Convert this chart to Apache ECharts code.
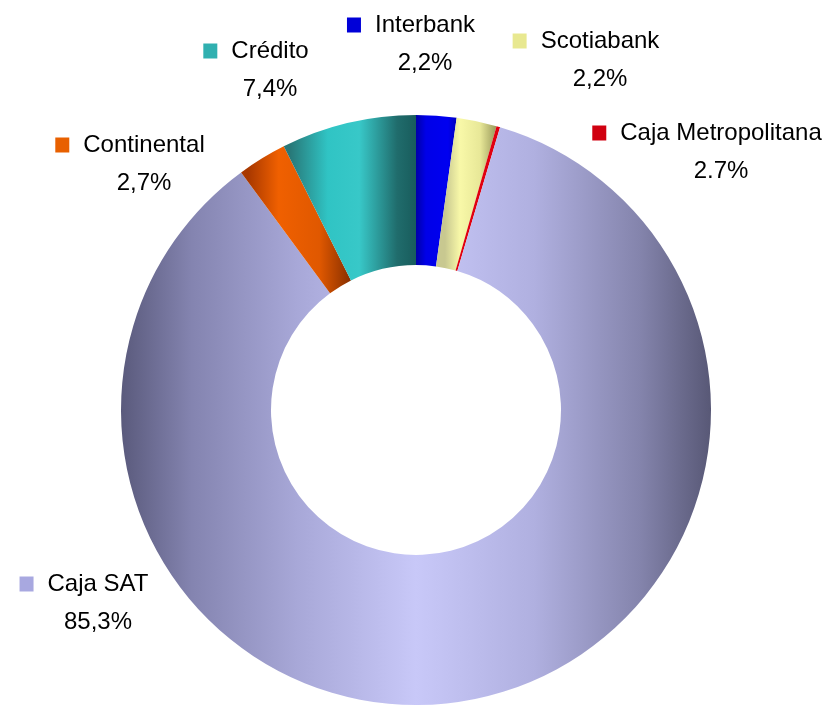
<!DOCTYPE html>
<html>
<head>
<meta charset="utf-8">
<script src="https://cdn.jsdelivr.net/npm/echarts@6/dist/echarts.min.js"></script>
<style>
  html, body { margin: 0; padding: 0; background: #fff; }
  #main { width: 833px; height: 714px; }
</style>
</head>
<body>
<div id="main"></div>
<script>
// datos del gráfico
var bancos = ['Interbank', 'Scotiabank', 'Caja Metropolitana', 'Caja SAT', 'Continental', 'Crédito'];
var valores = [2.2, 2.2, 0.2, 85.3, 2.7, 7.4];
var etiquetas = ['2,2%', '2,2%', '2.7%', '85,3%', '2,7%', '7,4%'];
var marcadores = ['#0000d8', '#e8e890', '#d00010', '#a8a8e0', '#e86000', '#30b0b0'];

var G = echarts.graphic.LinearGradient;
// degradados para efecto 3D (coordenadas globales)
var relleno = [
    new G(416, 0, 456, 0, [
        { offset: 0, color: '#0000a8' }, { offset: 0.25, color: '#0000e8' },
        { offset: 0.8, color: '#0000f0' }, { offset: 1, color: '#0000c0' }], true),
    new G(445, 0, 495, 0, [
        { offset: 0, color: '#c8c890' }, { offset: 0.3, color: '#f8f8a8' },
        { offset: 0.7, color: '#e8e898' }, { offset: 1, color: '#a0a060' }], true),
    '#e00010',
    new G(121, 0, 711, 0, [
        { offset: 0, color: '#5a5a7c' }, { offset: 0.12, color: '#8484b0' },
        { offset: 0.3, color: '#a8a8d8' }, { offset: 0.5, color: '#c8c8f8' },
        { offset: 0.7, color: '#b0b0e0' }, { offset: 0.88, color: '#8484ac' },
        { offset: 1, color: '#585876' }], true),
    new G(248, 0, 350, 0, [
        { offset: 0, color: '#a83800' }, { offset: 0.3, color: '#f06000' },
        { offset: 0.7, color: '#e05800' }, { offset: 1, color: '#8a3000' }], true),
    new G(290, 0, 416, 0, [
        { offset: 0, color: '#287878' }, { offset: 0.3, color: '#30c4c4' },
        { offset: 0.55, color: '#38c8c8' }, { offset: 0.85, color: '#206c6c' },
        { offset: 1, color: '#185c5c' }], true)
];

// posición de cada etiqueta (centro del bloque)
var posEtiquetas = [[411, 44], [586, 60], [707, 152], [84, 603], [130, 164], [256, 70]];

var rich = {
    n: { fontSize: 24, color: '#000', lineHeight: 38, padding: [0, 0, 0, 14], fontFamily: 'Liberation Sans' },
    p: { fontSize: 24, color: '#000', lineHeight: 38, padding: [0, 0, 0, 28], fontFamily: 'Liberation Sans' }
};
marcadores.forEach(function (c, i) {
    rich['m' + i] = { width: 14, height: 15, backgroundColor: c };
});

var myChart = echarts.init(document.getElementById('main'));

var option = {
    backgroundColor: '#ffffff',
    animation: false,
    series: [{
        type: 'pie',
        center: [416, 410],
        radius: [145, 295],
        startAngle: 90,
        clockwise: true,
        avoidLabelOverlap: false,
        labelLine: { show: false },
        label: {
            show: true,
            formatter: function (p) {
                return '{m' + p.dataIndex + '|}{n|' + p.name + '}\n{p|' + etiquetas[p.dataIndex] + '}';
            },
            rich: rich
        },
        labelLayout: function (params) {
            var pos = posEtiquetas[params.dataIndex];
            return { x: pos[0], y: pos[1], align: 'center', verticalAlign: 'middle' };
        },
        emphasis: { disabled: true },
        data: bancos.map(function (b, i) {
            return { name: b, value: valores[i], itemStyle: { color: relleno[i] } };
        })
    }]
};

myChart.setOption(option);
</script>
</body>
</html>
